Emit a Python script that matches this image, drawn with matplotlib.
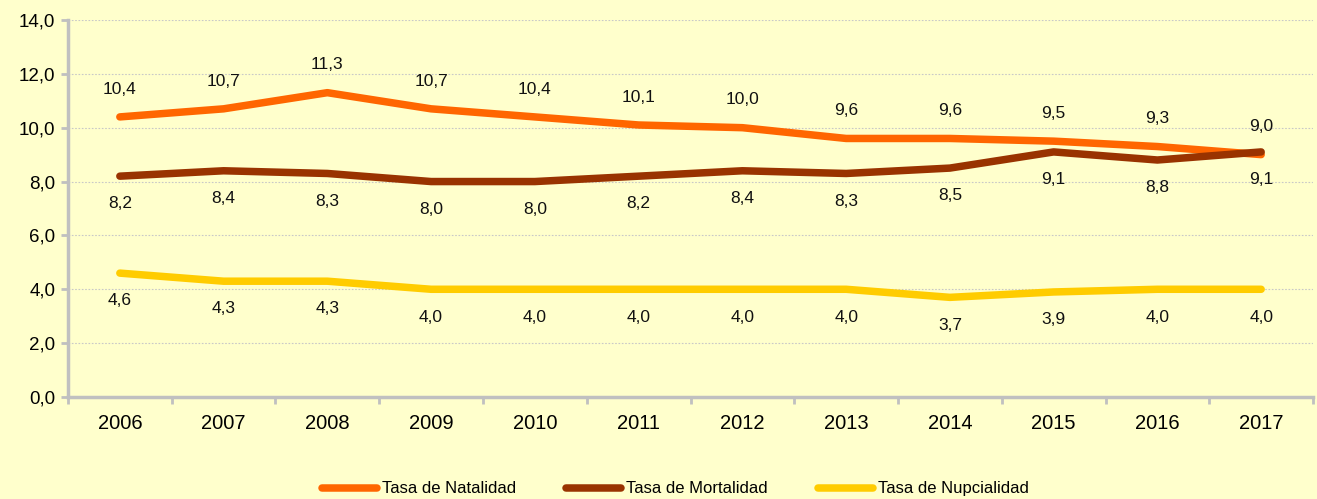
import matplotlib.pyplot as plt
import numpy as np

years = ['2006', '2007', '2008', '2009', '2010', '2011', '2012', '2013', '2014', '2015', '2016', '2017']
natalidad = [10.4, 10.7, 11.3, 10.7, 10.4, 10.1, 10.0, 9.6, 9.6, 9.5, 9.3, 9.0]
mortalidad = [8.2, 8.4, 8.3, 8.0, 8.0, 8.2, 8.4, 8.3, 8.5, 9.1, 8.8, 9.1]
nupcialidad = [4.6, 4.3, 4.3, 4.0, 4.0, 4.0, 4.0, 4.0, 3.7, 3.9, 4.0, 4.0]

series = [
    ('Tasa de Natalidad', natalidad, '#FF6600', 20),
    ('Tasa de Mortalidad', mortalidad, '#993300', -20),
    ('Tasa de Nupcialidad', nupcialidad, '#FFCC00', -20),
]

bg = '#FFFFCC'
plt.rcParams['font.family'] = ['Liberation Sans', 'DejaVu Sans']

fig = plt.figure(figsize=(13.17, 4.99), dpi=100, facecolor=bg)
ax = fig.add_axes([0.0516, 0.2044, 0.9454, 0.7556])
ax.set_facecolor(bg)

x = np.arange(len(years))
for name, vals, color, off in series:
    ax.plot(x, vals, color=color, lw=5.4, solid_capstyle='round', solid_joinstyle='round', label=name)
    for xi, v in zip(x, vals):
        ax.annotate(f"{v:.1f}".replace('.', ','), (xi, v), xytext=(0, off), textcoords='offset points',
                    ha='center', va='center', fontsize=12.5, color='#111111')

ax.set_xlim(-0.5, len(years) - 0.5)
ax.set_ylim(0, 14)
ax.set_yticks(np.arange(0, 14.1, 2))
ax.set_yticklabels([f"{v:.1f}".replace('.', ',') for v in np.arange(0, 14.1, 2)], fontsize=13.5)
ax.set_xticks(x)
ax.set_xticklabels(years, fontsize=14.5)
ax.set_xticks(np.arange(-0.5, len(years), 1), minor=True)
ax.tick_params(axis='x', which='major', length=0, pad=12)
ax.tick_params(axis='x', which='minor', length=5, width=2, color='#C0C0C0')
ax.tick_params(axis='y', length=5, width=2, color='#C0C0C0', pad=4)
ax.grid(axis='y', color='#C8C8C8', linestyle=(0, (1.5, 1.5)), lw=0.8)
ax.set_axisbelow(True)

for s in ['top', 'right']:
    ax.spines[s].set_visible(False)
for s in ['left', 'bottom']:
    ax.spines[s].set_color('#C0C0C0')
    ax.spines[s].set_linewidth(2.5)

leg = fig.legend(loc='lower center', bbox_to_anchor=(0.513, -0.025), ncol=3, frameon=False,
                 handlelength=3.3, columnspacing=3.0, handletextpad=0.3,
                 prop={'family': ['Liberation Sans Narrow', 'Liberation Sans'], 'size': 12})

fig.savefig('out.png', dpi=100, facecolor=bg)
